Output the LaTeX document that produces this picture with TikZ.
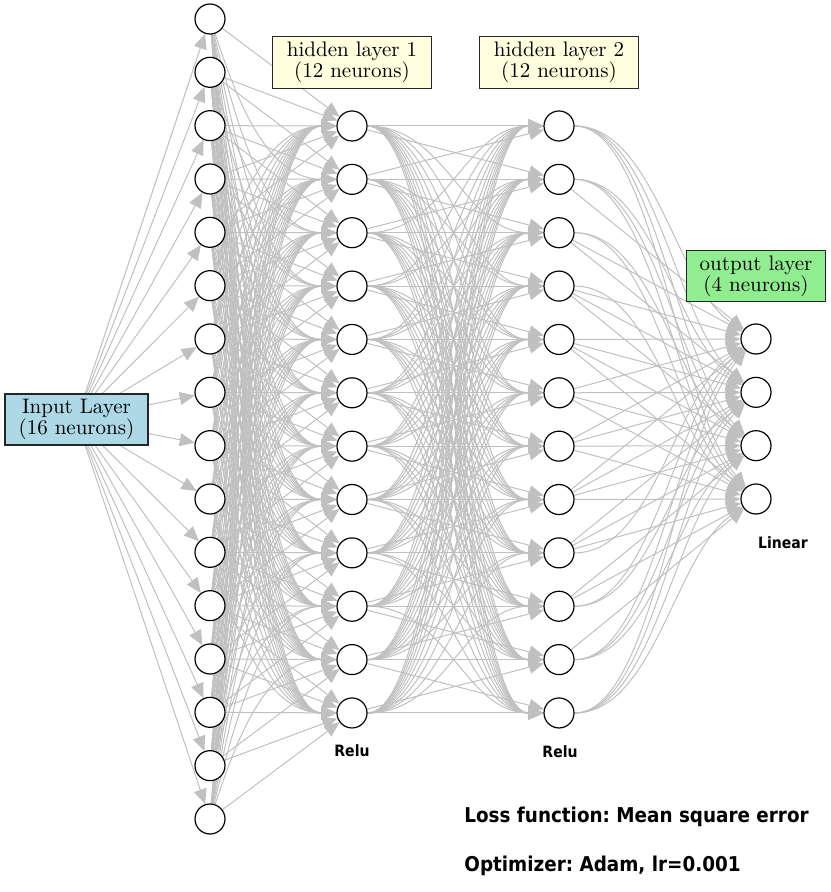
\documentclass[tikz,border=0pt]{standalone}
\usepackage{fontspec}
\newfontfamily\lblfont{DejaVu Sans}[FakeStretch=0.9]
\usetikzlibrary{arrows.meta,calc}
\pgfdeclarelayer{bg}
\pgfsetlayers{bg,main}
\definecolor{edgegray}{RGB}{192,192,192}
\definecolor{inblue}{RGB}{173,216,230}
\definecolor{hyellow}{RGB}{255,255,224}
\definecolor{ogreen}{RGB}{144,238,144}
\frenchspacing
\begin{document}
\begin{tikzpicture}[x=0.5pt,y=-0.5pt,
  neuron/.style={circle,draw=black,fill=white,line width=0.6pt,minimum size=15pt,inner sep=0pt},
  layerbox/.style={draw=black!85,line width=0.6pt,align=center,inner sep=0pt,
    font=\fontsize{10.5}{10.5}\selectfont},
  edge/.style={draw=edgegray,line width=0.5pt,-{Triangle[length=7.5pt,width=6.5pt]}},
  note/.style={inner sep=0pt,font=\lblfont\bfseries\fontsize{7.8}{9}\selectfont},
  bignote/.style={inner sep=0pt,anchor=west,font=\lblfont\bfseries\fontsize{10.2}{12}\selectfont}]
\useasboundingbox (0,0) rectangle (830,892);

% neurons
\foreach \k in {1,...,16} \node[neuron] (i\k) at (210,{19+(\k-1)*53.333}) {};
\foreach \k in {1,...,12} \node[neuron] (a\k) at (352,{126+(\k-1)*53.36}) {};
\foreach \k in {1,...,12} \node[neuron] (b\k) at (559,{126+(\k-1)*53.36}) {};
\foreach \k in {1,...,4} \node[neuron] (o\k) at (756,{339+(\k-1)*53.333}) {};

% layer boxes
\node[layerbox,fill=inblue,minimum width=71.5pt,minimum height=25.5pt] (inp) at (76.5,419.5) {Input Layer\\(16 neurons)};
\node[layerbox,fill=hyellow,minimum width=79.5pt,minimum height=25.8pt] (hl1) at (352,62.5) {hidden layer 1\\(12 neurons)};
\node[layerbox,fill=hyellow,minimum width=79.5pt,minimum height=25.8pt] (hl2) at (559,62.5) {hidden layer 2\\(12 neurons)};
\node[layerbox,fill=ogreen,minimum width=69.5pt,minimum height=25.5pt] (outl) at (756,276) {output layer\\(4 neurons)};

% labels
\node[note] (relu1) at (352,751) {Relu};
\node[note] (relu2) at (560,752) {Relu};
\node[note] (lin) at (783,543) {Linear};
\node[bignote] (loss) at (464,817) {Loss function: Mean square error};
\node[bignote] (opt) at (464,866) {Optimizer: Adam, lr=0.001};

% connectors
\begin{pgfonlayer}{bg}
\foreach \k in {1,...,16} \draw[edge] (inp) -- (i\k);
\foreach \s in {1,...,16}{
  \foreach \t in {1,...,12}{
    \pgfmathsetmacro\dy{(126+(\t-1)*53.36)-(19+(\s-1)*53.333)}
    \pgfmathparse{abs(\dy)<110?1:0}
    \ifnum\pgfmathresult=1
      \draw[edge] (i\s) -- (a\t);
    \else
      \draw[edge] (i\s) .. controls +(22,{0.4*\dy}) and +(-90,0) .. (a\t);
    \fi
  }
}
\foreach \s in {1,...,12}{
  \foreach \t in {1,...,12}{
    \pgfmathparse{abs(\s-\t)<2?1:0}
    \ifnum\pgfmathresult=1
      \draw[edge] (a\s) -- (b\t);
    \else
      \draw[edge] (a\s) .. controls +(95,0) and +(-95,0) .. (b\t);
    \fi
  }
}
\foreach \s in {1,...,12}{
  \foreach \t in {1,...,4}{
    \pgfmathsetmacro\dy{(339+(\t-1)*53.333)-(126+(\s-1)*53.36)}
    \pgfmathparse{abs(\dy)<165?1:0}
    \ifnum\pgfmathresult=1
      \draw[edge] (b\s) -- (o\t);
    \else
      \draw[edge] (b\s) .. controls +(95,0) and +(-80,{-0.25*\dy}) .. (o\t);
    \fi
  }
}
\end{pgfonlayer}
\end{tikzpicture}
\end{document}
